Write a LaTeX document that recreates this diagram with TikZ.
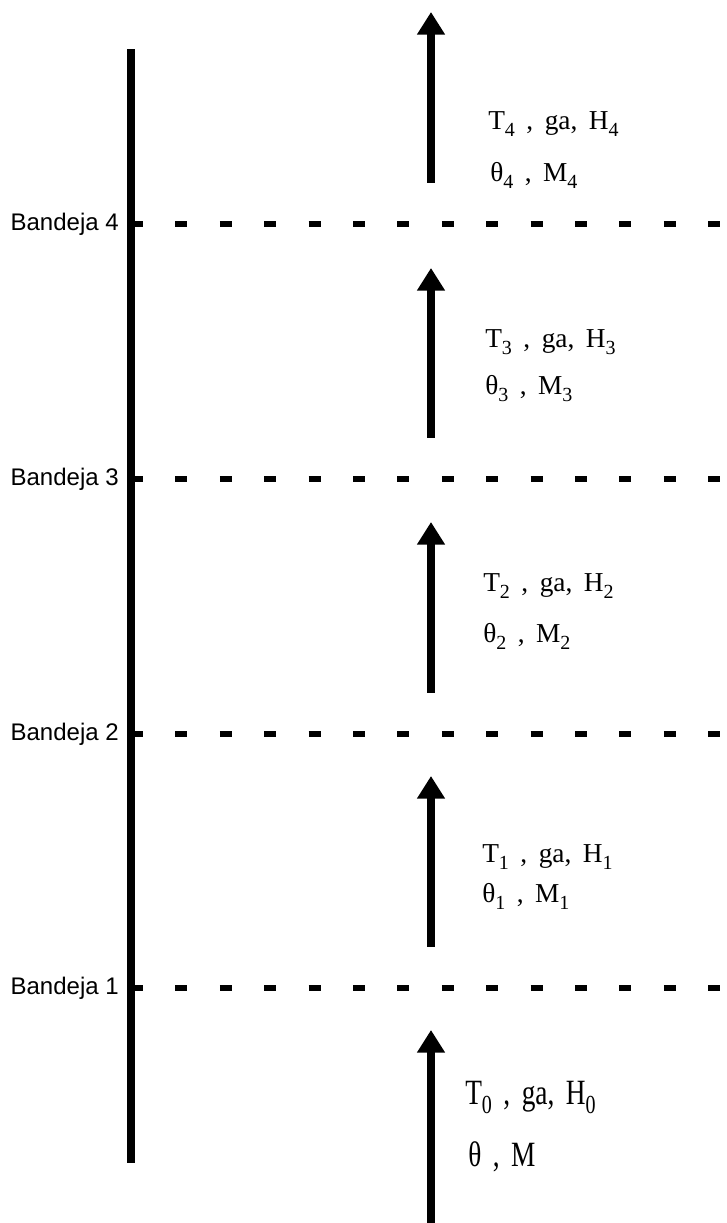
\documentclass[tikz,border=0pt]{standalone}
\usepackage{fontspec}
\usepackage{graphicx}
\setmainfont{Liberation Serif}
\newfontfamily\trayfont{Liberation Sans}
\usetikzlibrary{arrows.meta}
\newcommand{\idx}[1]{\raisebox{-5pt}{\fontsize{15pt}{15pt}\selectfont #1}}
\newcommand{\tall}[1]{\scalebox{1}[1.3]{#1}}
\newcommand{\widespace}{\spaceskip=0.42em\relax}

\begin{document}
\begin{tikzpicture}[x=0.75pt, y=0.75pt,
		flow/.style={line width=6pt, -{Triangle[length=17pt, width=20pt]}},
		tray/.style={line width=4.5pt, dash pattern=on 9pt off 24.3pt},
		column/.style={line width=5.5pt},
		trayname/.style={anchor=east, inner sep=0pt, font=\trayfont\fontsize{18pt}{18pt}\selectfont},
		vars/.style={anchor=base west, inner sep=0pt, font=\fontsize{20.5pt}{20.5pt}\selectfont}]
	\useasboundingbox (0,0) rectangle (726,1223);
	
	% columna
	\coordinate (colTop) at (131,1174);
	\coordinate (colBot) at (131,60);
	
	% bandejas
	\node[trayname] (b4) at (119,999) {Bandeja 4};
	\node[trayname] (b3) at (119,744) {Bandeja 3};
	\node[trayname] (b2) at (119,489) {Bandeja 2};
	\node[trayname] (b1) at (119,235) {Bandeja 1};
	\coordinate (b4r) at (722,999);
	\coordinate (b3r) at (722,744);
	\coordinate (b2r) at (722,489);
	\coordinate (b1r) at (722,235);
	\draw[tray] (b4.east -| colTop) -- (b4r);
	\draw[tray] (b3.east -| colTop) -- (b3r);
	\draw[tray] (b2.east -| colTop) -- (b2r);
	\draw[tray] (b1.east -| colTop) -- (b1r);
	\draw[column] (colBot) -- (colTop);
	
	% entrada (aire)
	\coordinate (a0s) at (431,0);
	\coordinate (a0e) at (431,193);
	\draw[flow] (a0s) -- (a0e);
	\node[vars] (t0) at (465,118) {\tall{\widespace T\idx{0} , ga, H\idx{0}}};
	\node[vars] (m0) at (468,56) {\tall{\widespace θ , M}};
	
	% bandeja 1
	\coordinate (a1s) at (431,276);
	\coordinate (a1e) at (431,447);
	\draw[flow] (a1s) -- (a1e);
	\node[vars] (t1) at (482,360) {\widespace T\idx{1} , ga, H\idx{1}};
	\node[vars] (m1) at (482,320) {\widespace θ\idx{1} , M\idx{1}};
	
	% bandeja 2
	\coordinate (a2s) at (431,530);
	\coordinate (a2e) at (431,701);
	\draw[flow] (a2s) -- (a2e);
	\node[vars] (t2) at (483,631) {\widespace T\idx{2} , ga, H\idx{2}};
	\node[vars] (m2) at (483,580) {\widespace θ\idx{2} , M\idx{2}};
	
	% bandeja 3
	\coordinate (a3s) at (431,785);
	\coordinate (a3e) at (431,955);
	\draw[flow] (a3s) -- (a3e);
	\node[vars] (t3) at (485,875) {\widespace T\idx{3} , ga, H\idx{3}};
	\node[vars] (m3) at (485,828) {\widespace θ\idx{3} , M\idx{3}};
	
	% bandeja 4 (salida)
	\coordinate (a4s) at (431,1040);
	\coordinate (a4e) at (431,1211);
	\draw[flow] (a4s) -- (a4e);
	\node[vars] (t4) at (488,1093) {\widespace T\idx{4} , ga, H\idx{4}};
	\node[vars] (m4) at (490,1041) {\widespace θ\idx{4} , M\idx{4}};
\end{tikzpicture}
\end{document}
